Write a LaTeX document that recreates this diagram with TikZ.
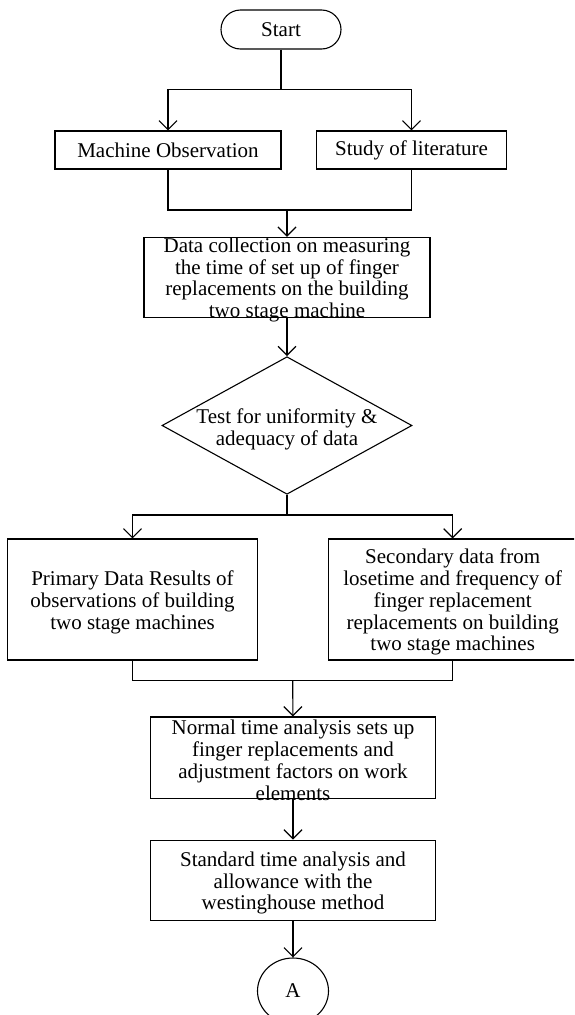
\documentclass[tikz,border=0pt]{standalone}
\usepackage{fontspec}
\setmainfont{Liberation Serif}
\usetikzlibrary{arrows.meta,shapes.geometric}
\tikzset{
  ln/.style={line width=1.2pt, draw=black},
  arr/.style={ln, -{Straight Barb[length=9pt,width=18pt,line width=1.2pt]}},
  rect/.style={draw=black, line width=1.1pt, rectangle, inner sep=0pt},
  term/.style={draw=black, line width=1.1pt, rectangle, rounded corners=19.5pt, inner sep=0pt},
  dia/.style={draw=black, line width=1.1pt, diamond, inner sep=0pt},
  conn/.style={draw=black, line width=1.1pt, ellipse, inner sep=0pt},
  txt/.style={font=\fontsize{21}{21.7}\selectfont, align=center, inner sep=0pt},
  mtxt/.style={txt, yshift=-2.7pt}
}
\begin{document}
\begin{tikzpicture}[x=1pt,y=-1pt]
\clip (0,0) rectangle (574,1015);
% shapes
\node[term, minimum width=120pt, minimum height=39pt] (start) at (281,29.5) {};
\node[txt] (startt) at (start.center) {Start};
\node[rect, minimum width=226pt, minimum height=38pt] (mo) at (168,150) {};
\node[txt] (mot) at (mo.center) {Machine Observation};
\node[rect, minimum width=190pt, minimum height=38pt] (sl) at (411.5,150) {};
\node[txt] (slt) at (sl.center) {Study of literature};
\node[rect, minimum width=286pt, minimum height=80pt] (dc) at (287,277.3) {};
\node[mtxt] (dct) at (dc.center) {Data collection on measuring\\the time of set up of finger\\replacements on the building\\two stage machine};
\node[dia, minimum width=250pt, minimum height=137.6pt] (test) at (287,425.5) {};
\node[mtxt] (testt) at (287,427) {Test for uniformity \&\\adequacy of data};
\node[rect, minimum width=250pt, minimum height=121pt] (prim) at (132.5,599.5) {};
\node[mtxt] (primt) at (prim.center) {Primary Data Results of\\observations of building\\two stage machines};
\node[rect, minimum width=249pt, minimum height=121pt] (sec) at (452.7,599.5) {};
\node[mtxt] (sect) at (sec.center) {Secondary data from\\losetime and frequency of\\finger replacement\\replacements on building\\two stage machines};
\node[rect, minimum width=285pt, minimum height=81.3pt] (norm) at (293,757.6) {};
\node[mtxt] (normt) at (norm.center) {Normal time analysis sets up\\finger replacements and\\adjustment factors on work\\elements};
\node[rect, minimum width=285pt, minimum height=80.7pt] (std) at (293,880.4) {};
\node[mtxt] (stdt) at (std.center) {Standard time analysis and\\allowance with the\\westinghouse method};
\node[conn, minimum width=71pt, minimum height=66pt] (A) at (293,991) {};
\node[txt] (At) at (A.center) {A};
% junctions
\coordinate (j1) at (281,89.3);
\coordinate (j2) at (287,210);
\coordinate (j3) at (287,515);
\coordinate (j4) at (292.8,680.7);
% connectors
\draw[ln] (start) -- (j1);
\draw[arr] (j1) -| (mo);
\draw[arr] (j1) -| (sl);
\draw[ln] (mo) |- (j2) -| (sl);
\draw[arr] (j2) -- (dc);
\draw[arr] (dc) -- (test);
\draw[ln] (test) -- (j3);
\draw[arr] (j3) -| (prim);
\draw[arr] (j3) -| (sec);
\draw[ln] (prim) |- (j4) -| (sec);
\draw[arr] (j4) -- (norm);
\draw[arr] (norm) -- (std);
\draw[arr] (std) -- (A);
\end{tikzpicture}
\end{document}
